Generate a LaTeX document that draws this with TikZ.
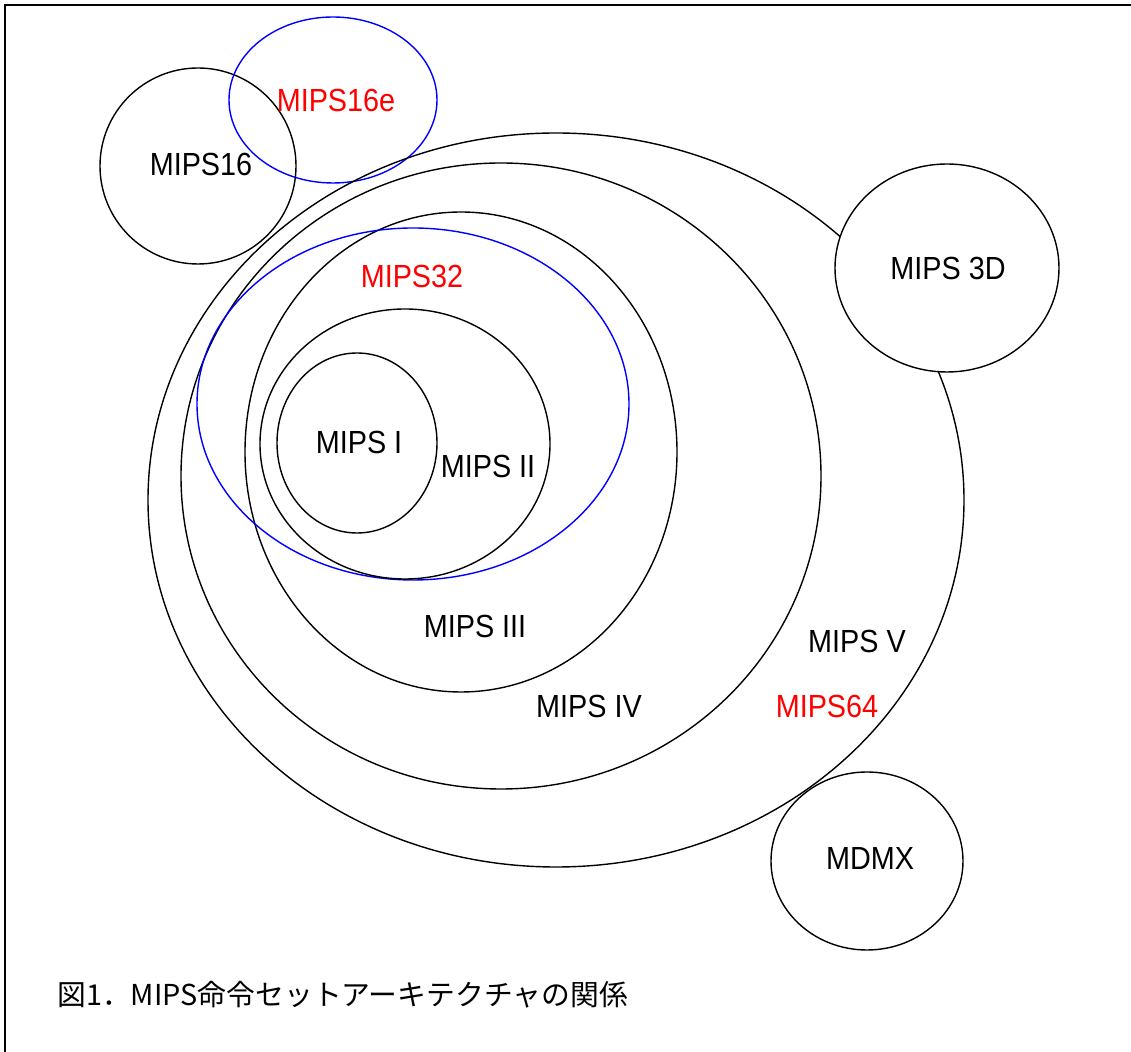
\documentclass[tikz,border=0pt]{standalone}
\usepackage{fontspec}
\setmainfont[FakeStretch=0.9]{Liberation Sans}
\newfontfamily\jpfont{Noto Sans CJK JP}

\begin{document}
\begin{tikzpicture}[x=0.5pt, y=-0.5pt,
    isa/.style={draw=black, line width=0.7pt},
    subisa/.style={draw=blue, line width=0.7pt},
    lbl/.style={font=\fontsize{16}{19}\selectfont, inner sep=0pt},
    newlbl/.style={lbl, text=red}]
    \useasboundingbox (0,0) rectangle (1131,1052);
    \draw[line width=0.9pt] (5,1052) -- (5,5) -- (1131,5);
    % MIPS16 / MIPS16e
    \draw[isa] (198,166) ellipse [x radius=98, y radius=98];
    \draw[subisa] (333,100) ellipse [x radius=104, y radius=83];
    \node[lbl] (m16) at (201,164) {MIPS16};
    \node[newlbl] (m16e) at (336,100) {MIPS16e};
    % MIPS V and 3D
    \draw[isa] (556,500) ellipse [x radius=408, y radius=367];
    \draw[isa, fill=white] (947,268) ellipse [x radius=112, y radius=104];
    \node[lbl] (m3d) at (948,268) {MIPS 3D};
    % MIPS IV .. MIPS I
    \draw[isa] (501,476) ellipse [x radius=320, y radius=313];
    \draw[isa] (461,452) ellipse [x radius=216, y radius=240];
    \draw[subisa] (413,404) ellipse [x radius=216, y radius=176];
    \draw[isa] (405,444) ellipse [x radius=145, y radius=135];
    \draw[isa] (357,443) ellipse [x radius=80, y radius=90];
    \node[newlbl] (m32) at (412,276) {MIPS32};
    \node[lbl] (m1) at (359,442) {MIPS I};
    \node[lbl] (m2) at (488,466) {MIPS II};
    \node[lbl] (m3) at (475,626) {MIPS III};
    \node[lbl] (m4) at (589,706) {MIPS IV};
    \node[lbl] (m5) at (857,641) {MIPS V};
    \node[newlbl] (m64) at (827,706) {MIPS64};
    % MDMX
    \draw[isa] (867,861) ellipse [x radius=96, y radius=89];
    \node[lbl] (mdmx) at (870,858) {MDMX};
    \node[anchor=west, inner sep=0pt, font=\jpfont\fontsize{14.4}{17}\selectfont] (cap) at (57,995) {図1．MIPS命令セットアーキテクチャの関係};
\end{tikzpicture}
\end{document}
